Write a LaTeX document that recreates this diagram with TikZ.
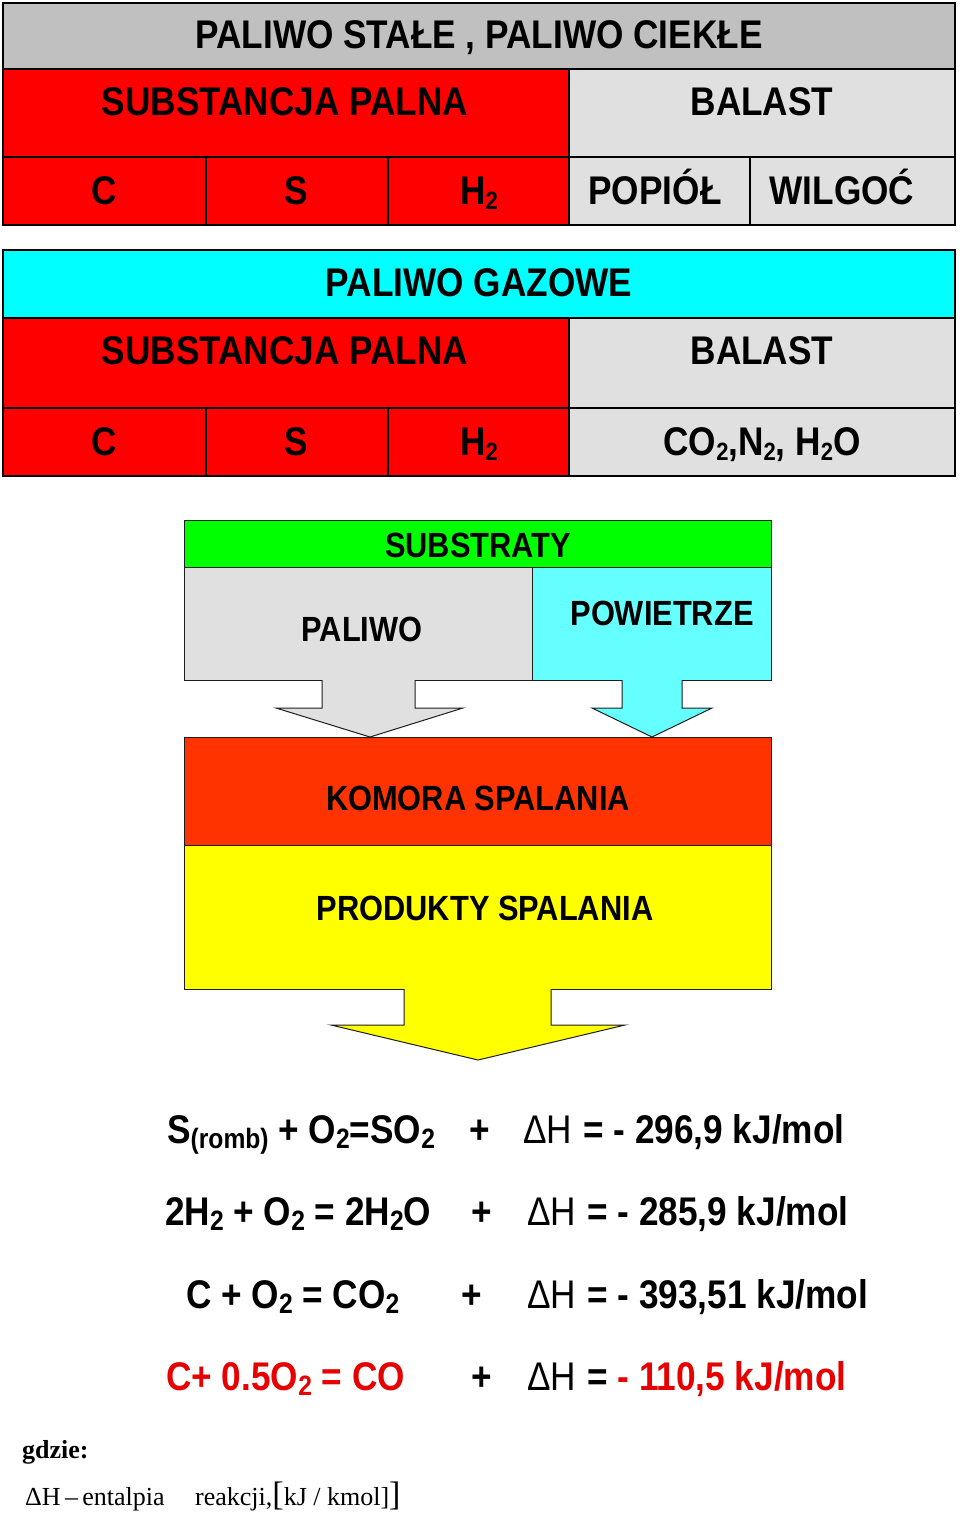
\documentclass[tikz,border=0pt]{standalone}
\usepackage{fontspec}
\setmainfont{Liberation Sans}[FakeStretch=0.88]
\newfontfamily\tms{Liberation Serif}
\definecolor{hdrgray}{RGB}{192,192,192}
\definecolor{ltgray}{RGB}{224,224,224}
\definecolor{cred}{RGB}{255,0,0}
\definecolor{ccyan}{RGB}{0,255,255}
\definecolor{ltcyan}{RGB}{102,255,255}
\definecolor{cgreen}{RGB}{0,255,0}
\definecolor{corange}{RGB}{255,51,0}
\definecolor{cyellow}{RGB}{255,255,0}
\definecolor{eqred}{RGB}{230,0,0}
\definecolor{edge}{RGB}{30,30,30}
\newcommand\fA{\fontsize{40}{44}\selectfont\bfseries}
\newcommand\fB{\fontsize{35}{40}\selectfont\bfseries}
\newcommand\sbA[1]{\raisebox{-5pt}{\fontsize{25}{25}\selectfont #1}}
\newcommand\sbE[1]{\raisebox{-5pt}{\fontsize{28}{28}\selectfont #1}}
\begin{document}
\begin{tikzpicture}[x=1pt,y=-1pt,
  tline/.style={line width=1.6pt,draw=black},
  bline/.style={line width=1pt,draw=edge},
  ttext/.style={inner sep=0pt,anchor=base,font=\fA},
  btext/.style={inner sep=0pt,anchor=base,font=\fB},
  eqtext/.style={inner sep=0pt,anchor=base west,font=\fA},
  dhtext/.style={inner sep=0pt,anchor=base west,font=\fontsize{40}{44}\selectfont\mdseries},
  pltext/.style={inner sep=0pt,anchor=base,font=\fA}]
\useasboundingbox (0,0) rectangle (960,1515);
\fill[white] (0,0) rectangle (960,1515);
% ---- table 1
\fill[hdrgray] (3,3) rectangle (955,69);
\fill[cred] (3,69) rectangle (569,225);
\fill[ltgray] (569,69) rectangle (955,225);
\draw[tline] (3,3) rectangle (955,225);
\draw[tline] (3,69) -- (955,69);
\draw[tline] (3,157) -- (955,157);
\draw[tline] (569,69) -- (569,225);
\draw[tline] (206,157) -- (206,225);
\draw[tline] (388,157) -- (388,225);
\draw[tline] (750,157) -- (750,225);
\node[ttext] (t1h) at (479,48) {PALIWO STAŁE , PALIWO CIEKŁE};
\node[ttext] (t1s) at (285,115) {SUBSTANCJA PALNA};
\node[ttext] (t1b) at (762,115) {BALAST};
\node[ttext] (t1c) at (104,204) {C};
\node[ttext] (t1sx) at (296,204) {S};
\node[ttext] (t1h2) at (479,204) {H\sbA{2}};
\node[ttext] (t1p) at (655,204) {POPIÓŁ};
\node[ttext] (t1w) at (842,204) {WILGOĆ};
% ---- table 2
\fill[ccyan] (3,250) rectangle (955,318);
\fill[cred] (3,318) rectangle (569,476);
\fill[ltgray] (569,318) rectangle (955,476);
\draw[tline] (3,250) rectangle (955,476);
\draw[tline] (3,318) -- (955,318);
\draw[tline] (3,408) -- (955,408);
\draw[tline] (569,318) -- (569,476);
\draw[tline] (206,408) -- (206,476);
\draw[tline] (388,408) -- (388,476);
\node[ttext] (t2h) at (479,296) {PALIWO GAZOWE};
\node[ttext] (t2s) at (285,364) {SUBSTANCJA PALNA};
\node[ttext] (t2b) at (762,364) {BALAST};
\node[ttext] (t2c) at (104,455) {C};
\node[ttext] (t2sx) at (296,455) {S};
\node[ttext] (t2h2) at (479,455) {H\sbA{2}};
\node[ttext] (t2g) at (762,455) {CO\sbA{2},N\sbA{2}, H\sbA{2}O};
% ---- substrates block
\fill[cgreen] (184,520) rectangle (771,567);
\fill[ltgray] (184,567) rectangle (532,680);
\fill[ltcyan] (532,567) rectangle (771,680);
\draw[bline] (184,520) rectangle (771,680);
\draw[bline] (184,567) -- (771,567);
\draw[bline] (532,567) -- (532,680);
% arrows
\fill[ltgray] (322,679) -- (322,708) -- (276,708) -- (370,737) -- (463,708) -- (415,708) -- (415,679) -- cycle;
\draw[bline] (322,680) -- (322,708) -- (276,708) -- (370,737) -- (463,708) -- (415,708) -- (415,680);
\fill[ltcyan] (622,679) -- (622,708) -- (592,708) -- (652,737) -- (712,708) -- (682,708) -- (682,679) -- cycle;
\draw[bline] (622,680) -- (622,708) -- (592,708) -- (652,737) -- (712,708) -- (682,708) -- (682,680);
\node[btext] (sub) at (478,557) {SUBSTRATY};
\node[btext] (pal) at (362,641) {PALIWO};
\node[btext] (pow) at (662,625) {POWIETRZE};
% chamber and products
\fill[corange] (184,737) rectangle (771,845);
\fill[cyellow] (184,845) rectangle (771,989);
\draw[bline] (184,737) rectangle (771,989);
\draw[bline] (184,845) -- (771,845);
\fill[cyellow] (404,988) -- (404,1025) -- (331,1025) -- (478,1060) -- (625,1025) -- (551,1025) -- (551,988) -- cycle;
\draw[bline] (404,989) -- (404,1025) -- (331,1025) -- (478,1060) -- (625,1025) -- (551,1025) -- (551,989);
\node[btext] (kom) at (478,810) {KOMORA SPALANIA};
\node[btext] (prod) at (485,920) {PRODUKTY SPALANIA};
% ---- equations
\node[eqtext] (e1a) at (167,1143) {S\sbE{(romb)} + O\sbE{2}=SO\sbE{2}};
\node[pltext] (e1p) at (480,1143) {+};
\node[dhtext] (e1d) at (523,1143) {ΔH};
\node[eqtext] (e1v) at (583,1143) {= - 296,9 kJ/mol};
\node[eqtext] (e2a) at (165,1225) {2H\sbE{2} + O\sbE{2} = 2H\sbE{2}O};
\node[pltext] (e2p) at (482,1225) {+};
\node[dhtext] (e2d) at (527,1225) {ΔH};
\node[eqtext] (e2v) at (587,1225) {= - 285,9 kJ/mol};
\node[eqtext] (e3a) at (186,1308) {C + O\sbE{2} = CO\sbE{2}};
\node[pltext] (e3p) at (472,1308) {+};
\node[dhtext] (e3d) at (527,1308) {ΔH};
\node[eqtext] (e3v) at (587,1308) {= - 393,51 kJ/mol};
\node[eqtext,text=eqred] (e4a) at (166,1390) {C+ 0.5O\sbE{2} = CO};
\node[pltext] (e4p) at (482,1390) {+};
\node[dhtext] (e4d) at (527,1390) {ΔH};
\node[eqtext] (e4v) at (587,1390) {= \textcolor{eqred}{- 110,5 kJ/mol}};
% ---- legend
\node[inner sep=0pt,anchor=base west,font=\tms\fontsize{26}{28}\selectfont\bfseries] (gd) at (22,1458) {gdzie:};
\node[inner sep=0pt,anchor=base west,font=\tms\fontsize{26}{28}\selectfont] (dh) at (25,1505) {ΔH\,–\,entalpia};
\node[inner sep=0pt,anchor=base west,font=\tms\fontsize{26}{28}\selectfont] (re) at (195,1505) {reakcji,{\fontsize{34}{34}\selectfont[}kJ / kmol]{\fontsize{34}{34}\selectfont]}};
\end{tikzpicture}
\end{document}
